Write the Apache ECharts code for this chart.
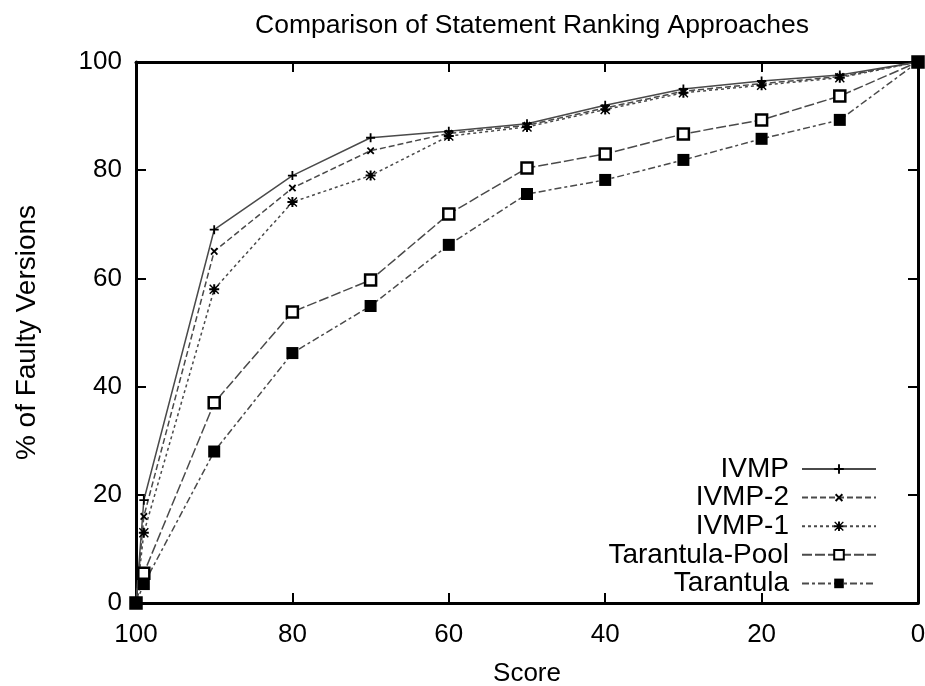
<!DOCTYPE html>
<html>
<head>
<meta charset="UTF-8">
<title>Comparison of Statement Ranking Approaches</title>
<script type="text/javascript" src="https://cdn.jsdelivr.net/npm/echarts@6/dist/echarts.min.js"></script>
<style>
html,body{margin:0;padding:0;background:#fff;}
</style>
</head>
<body>
<div id="mychart" style="width:925px;height:686px;"></div>

<script type="text/javascript">

// score (x axis, shown from 100 down to 0)
var scores = [100, 99, 90, 80, 70, 60, 50, 40, 30, 20, 10, 0];

// % of faulty versions
var ivmp          = [0, 19, 69, 79, 86, 87.2, 88.6, 92, 95, 96.5, 97.6, 100];
var ivmp2         = [0, 16, 65, 76.7, 83.6, 86.8, 88.3, 91.5, 94.6, 96, 97.3, 100];
var ivmp1         = [0, 13, 58, 74.1, 79, 86.3, 88, 91.2, 94.3, 95.7, 97.1, 100];
var tarantulaPool = [0, 5.5, 37, 53.8, 59.7, 71.9, 80.4, 83, 86.7, 89.3, 93.7, 100];
var tarantula     = [0, 3.5, 28, 46.2, 54.9, 66.2, 75.6, 78.2, 81.9, 85.8, 89.3, 100];

var seriesNames = ['IVMP', 'IVMP-2', 'IVMP-1', 'Tarantula-Pool', 'Tarantula'];

var font = 'Liberation Sans, Arial, Helvetica, sans-serif';

function pairs(vals) {
  var out = [];
  for (var i = 0; i < scores.length; i++) out.push([scores[i], vals[i]]);
  return out;
}

// marker shapes
var plusPath = 'path://M4,0H6V4H10V6H6V10H4V6H0V4H4Z';
var starPath = 'path://M4,0H6V4H10V6H6V10H4V6H0V4H4Z M1,0L5,4L9,0L10,1L6,5L10,9L9,10L5,6L1,10L0,9L4,5L0,1Z';

function lineSeries(name, vals, symbol, size, dash, itemStyle, rotate) {
  return {
    name: name,
    type: 'line',
    data: pairs(vals),
    symbol: symbol,
    symbolSize: size,
    symbolRotate: rotate || 0,
    showSymbol: true,
    animation: false,
    lineStyle: { color: '#4a4a4a', width: 1.5, type: dash },
    itemStyle: itemStyle,
    emphasis: { disabled: true }
  };
}

var mychart = echarts.init(document.getElementById('mychart'));

var axisCommon = {
  type: 'value',
  min: 0,
  max: 100,
  interval: 20,
  splitLine: { show: false },
  axisLine: { show: true, onZero: false, lineStyle: { color: '#000', width: 3 } },
  axisTick: { show: true, inside: true, length: 10, lineStyle: { color: '#000', width: 2 } }
};

var option = {
  backgroundColor: '#fff',
  title: {
    text: 'Comparison of Statement Ranking Approaches',
    left: 527,
    top: 7,
    textAlign: 'center',
    textStyle: { fontFamily: font, fontSize: 26.5, fontWeight: 'normal', color: '#000' }
  },
  grid: { left: 136, right: 7, top: 62, bottom: 83, outerBoundsMode: 'none', containLabel: false },
  legend: {
    orient: 'vertical',
    align: 'right',
    right: 43,
    top: 450,
    itemWidth: 74,
    itemHeight: 12,
    itemGap: 0.6,
    data: seriesNames,
    textStyle: { fontFamily: font, fontSize: 28, color: '#000', padding: [0, 8, 0, 0] }
  },
  xAxis: [
    Object.assign({}, axisCommon, {
      position: 'bottom',
      inverse: true,
      name: 'Score',
      nameLocation: 'middle',
      nameGap: 58,
      nameTextStyle: { fontFamily: font, fontSize: 26, color: '#000' },
      axisLabel: { fontFamily: font, fontSize: 26, color: '#000', margin: 19 }
    }),
    Object.assign({}, axisCommon, {
      position: 'top',
      inverse: true,
      axisLabel: { show: false }
    })
  ],
  yAxis: [
    Object.assign({}, axisCommon, {
      position: 'left',
      name: '% of Faulty Versions',
      nameLocation: 'middle',
      nameGap: 95,
      nameTextStyle: { fontFamily: font, fontSize: 28, color: '#000' },
      axisLabel: { fontFamily: font, fontSize: 26, color: '#000', margin: 14 }
    }),
    Object.assign({}, axisCommon, {
      position: 'right',
      axisLabel: { show: false }
    })
  ],
  series: [
    lineSeries('IVMP', ivmp, plusPath, 9, 'solid', { color: '#000' }),
    lineSeries('IVMP-2', ivmp2, plusPath, 9, [6, 3], { color: '#000' }, 45),
    lineSeries('IVMP-1', ivmp1, starPath, 10, [3, 3], { color: '#000' }),
    lineSeries('Tarantula-Pool', tarantulaPool, 'rect', 11, [10, 3], { color: '#fff', borderColor: '#000', borderWidth: 2.5 }),
    lineSeries('Tarantula', tarantula, 'rect', 12, [7, 3, 3, 3], { color: '#000' })
  ]
};

mychart.setOption(option);
</script>
</body>
</html>
